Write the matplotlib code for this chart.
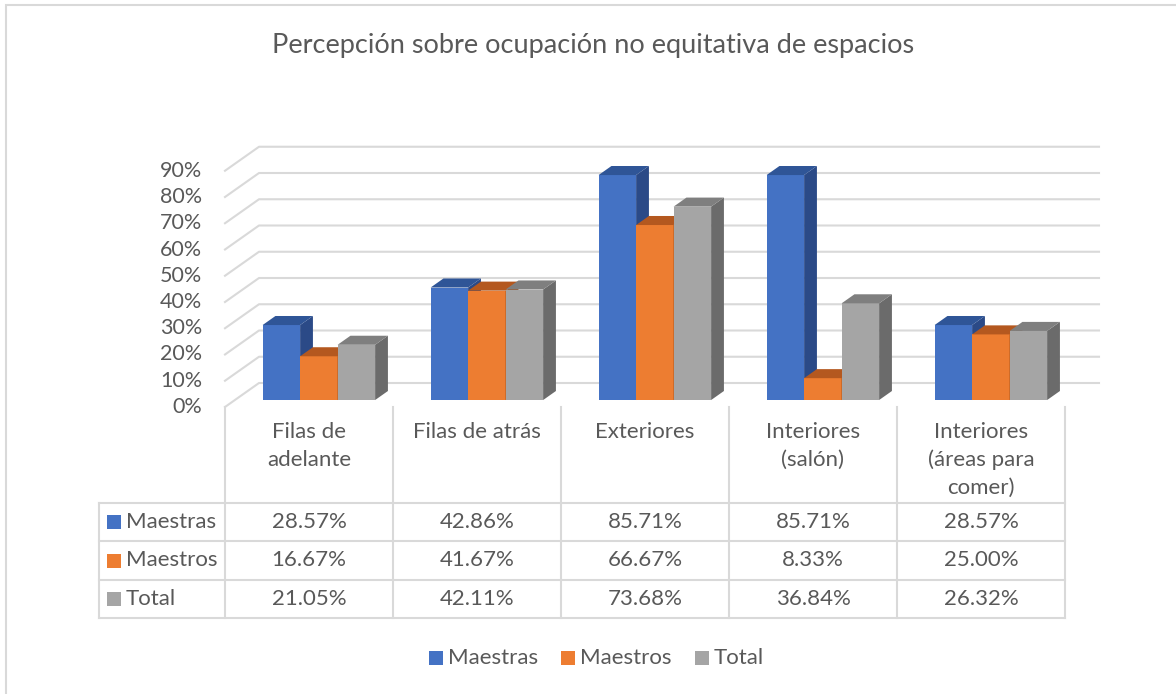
import matplotlib.pyplot as plt
from matplotlib.patches import Rectangle, Polygon

plt.rcParams['font.family'] = ['Lato', 'DejaVu Sans']

# datos
titulo = "Percepción sobre ocupación no equitativa de espacios"
categorias = ["Filas de\nadelante", "Filas de atrás", "Exteriores",
              "Interiores\n(salón)", "Interiores\n(áreas para\ncomer)"]
series = ["Maestras", "Maestros", "Total"]
maestras = [28.57, 42.86, 85.71, 85.71, 28.57]
maestros = [16.67, 41.67, 66.67, 8.33, 25.00]
total = [21.05, 42.11, 73.68, 36.84, 26.32]
valores = [maestras, maestros, total]
ticks = [0, 10, 20, 30, 40, 50, 60, 70, 80, 90]

# colores (frente, arriba, lado)
frente = ["#4472C4", "#ED7D31", "#A5A5A5"]
arriba = ["#2F5597", "#B4581F", "#7F7F7F"]
lado = ["#2B4A87", "#A0501C", "#6B6B6B"]
gris_txt = "#595959"
gris_lin = "#D9D9D9"

# geometria en pixeles
W, H = 1176, 694
X0, COLW = 225, 168      # borde izquierdo del piso frontal, ancho de columna
Y0, PPU = 407, 2.625     # 0% frontal, pixeles por 1%
ddx, ddy = 34 / COLW, 24 / PPU   # vector de profundidad en unidades de datos
f0, f1 = 0.29, 0.667             # profundidad de las barras
bw = 37.5 / COLW
FS = 16

fig = plt.figure(figsize=(W / 100, H / 100), dpi=100)
ax = fig.add_axes([0, 0, 1, 1])
ax.set_xlim(-X0 / COLW, (W - X0) / COLW)
ax.set_ylim(-(H - Y0) / PPU, Y0 / PPU)
ax.axis('off')


def px(x, y):
    return x / W, 1 - y / H


# borde exterior
fig.patches.append(Rectangle(px(6, 1200), 2000 / W, (1200 - 5) / H,
                             transform=fig.transFigure, fill=False,
                             edgecolor=gris_lin, lw=1.5))

# titulo
fig.text(*px(593, 45), titulo, ha='center', va='center', fontsize=19.5, color=gris_txt)

n = len(categorias)
# lineas de cuadricula (pared del fondo)
for t in ticks:
    ax.plot([0, ddx, n + ddx], [t, t + ddy, t + ddy], color=gris_lin, lw=1.5, zorder=1)
    ax.text((202 - X0) / COLW, t, f"{t}%", ha='right', va='center',
            fontsize=15.5, color=gris_txt)

# barras 3D
bdx, bdy = (f1 - f0) * ddx, (f1 - f0) * ddy
for i in range(n):
    x_ini = i + 0.5 - 1.5 * bw + f0 * ddx
    b = f0 * ddy
    for j in range(len(series)):
        v = valores[j][i]
        x = x_ini + j * bw
        ax.add_patch(Rectangle((x, b), bw, v, facecolor=frente[j], lw=0, zorder=3))
        ax.add_patch(Polygon([(x + bw, b), (x + bw, b + v), (x + bw + bdx, b + v + bdy),
                              (x + bw + bdx, b + bdy)], closed=True,
                             facecolor=lado[j], lw=0, zorder=3))
        ax.add_patch(Polygon([(x, b + v), (x + bw, b + v), (x + bw + bdx, b + v + bdy),
                              (x + bdx, b + v + bdy)], closed=True,
                             facecolor=arriba[j], lw=0, zorder=3))

# tabla de datos
filas_y = [503, 541, 580, 618]
TX = 99
for yy in filas_y:
    fig.add_artist(plt.Line2D([TX / W, (X0 + n * COLW) / W], [1 - yy / H] * 2,
                              color=gris_lin, lw=1.5))
for k in range(n + 1):
    xx = X0 + k * COLW
    fig.add_artist(plt.Line2D([xx / W] * 2, [1 - Y0 / H, 1 - filas_y[-1] / H],
                              color=gris_lin, lw=1.5))
fig.add_artist(plt.Line2D([TX / W] * 2, [1 - filas_y[0] / H, 1 - filas_y[-1] / H],
                          color=gris_lin, lw=1.5))

for i, cat in enumerate(categorias):
    cx = X0 + (i + 0.5) * COLW
    for k, linea in enumerate(cat.split("\n")):
        fig.text(*px(cx, 432 + 28 * k), linea, ha='center', va='center',
                 fontsize=FS, color=gris_txt)

for j, s in enumerate(series):
    cy = (filas_y[j] + filas_y[j + 1]) / 2
    fig.patches.append(Rectangle(px(107, cy + 7), 14 / W, 14 / H,
                                 transform=fig.transFigure, facecolor=frente[j], lw=0))
    fig.text(*px(126, cy), s, ha='left', va='center', fontsize=FS, color=gris_txt)
    for i in range(n):
        cx = X0 + (i + 0.5) * COLW
        fig.text(*px(cx, cy), f"{valores[j][i]:.2f}%", ha='center', va='center',
                 fontsize=FS, color=gris_txt)

# leyenda
leg_x = [429, 561, 695]
for j, s in enumerate(series):
    fig.patches.append(Rectangle(px(leg_x[j], 665), 14 / W, 14 / H,
                                 transform=fig.transFigure, facecolor=frente[j], lw=0))
    fig.text(*px(leg_x[j] + 19, 658), s, ha='left', va='center', fontsize=FS, color=gris_txt)

fig.savefig("out.png", dpi=100, facecolor="white")
